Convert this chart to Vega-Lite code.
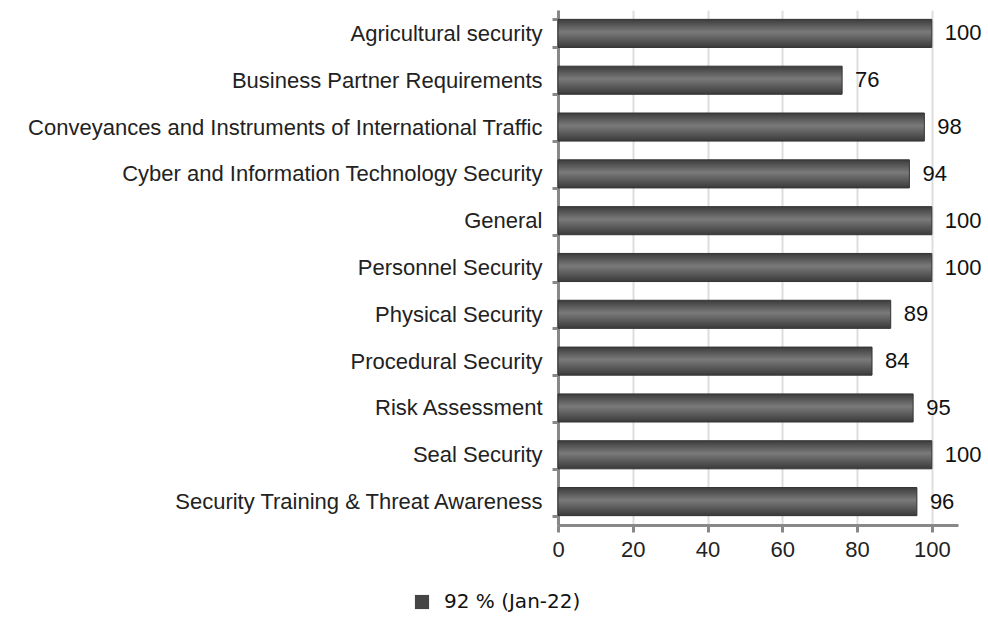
{
  "$schema": "https://vega.github.io/schema/vega-lite/v6.json",
  "autosize": {"type": "none"},
  "padding": {"left": 558, "top": 10, "right": 30, "bottom": 94},
  "width": 400,
  "height": 515,
  "background": "white",
  "config": {"view": {"stroke": null}},
  "data": {
    "values": [
      {"category": "Agricultural security", "value": 100, "series": "92 % (Jan-22)"},
      {"category": "Business Partner Requirements", "value": 76, "series": "92 % (Jan-22)"},
      {"category": "Conveyances and Instruments of International Traffic", "value": 98, "series": "92 % (Jan-22)"},
      {"category": "Cyber and Information Technology Security", "value": 94, "series": "92 % (Jan-22)"},
      {"category": "General", "value": 100, "series": "92 % (Jan-22)"},
      {"category": "Personnel Security", "value": 100, "series": "92 % (Jan-22)"},
      {"category": "Physical Security", "value": 89, "series": "92 % (Jan-22)"},
      {"category": "Procedural Security", "value": 84, "series": "92 % (Jan-22)"},
      {"category": "Risk Assessment", "value": 95, "series": "92 % (Jan-22)"},
      {"category": "Seal Security", "value": 100, "series": "92 % (Jan-22)"},
      {"category": "Security Training & Threat Awareness", "value": 96, "series": "92 % (Jan-22)"}
    ]
  },
  "encoding": {
    "y": {
      "field": "category", "type": "nominal", "sort": null,
      "scale": {"paddingInner": 0.4, "paddingOuter": 0.2},
      "axis": {
        "title": null,
        "labelFont": "Liberation Sans", "labelFontSize": 22, "labelColor": "#222222",
        "labelPadding": 10, "labelLimit": 700,
        "domainColor": "#888888", "domainWidth": 3,
        "tickColor": "#888888", "tickWidth": 3, "tickSize": 6, "tickBand": "extent"
      }
    },
    "x": {
      "field": "value", "type": "quantitative",
      "scale": {"domain": [0, 107], "nice": false},
      "axis": {
        "title": null, "values": [0, 20, 40, 60, 80, 100], "labelFlush": false,
        "labelFont": "Liberation Sans", "labelFontSize": 22, "labelColor": "#222222",
        "labelPadding": 7,
        "domainColor": "#888888", "domainWidth": 3,
        "tickColor": "#888888", "tickWidth": 3, "tickSize": 7,
        "grid": true, "gridColor": "#dddddd", "gridWidth": 2
      }
    }
  },
  "layer": [
    {
      "mark": {
        "type": "bar",
        "fill": {
          "gradient": "linear", "x1": 0, "y1": 0, "x2": 0, "y2": 1,
          "stops": [
            {"offset": 0, "color": "#3c3c3c"},
            {"offset": 0.45, "color": "#7a7a7a"},
            {"offset": 1, "color": "#3a3a3a"}
          ]
        },
        "stroke": "#333333", "strokeWidth": 1
      },
      "encoding": {
        "color": {
          "field": "series", "type": "nominal",
          "scale": {"range": ["#454545"]},
          "legend": {
            "title": null, "orient": "none", "legendX": -146, "legendY": 582,
            "symbolType": "square", "symbolSize": 200, "symbolStrokeWidth": 0,
            "labelFont": "DejaVu Sans", "labelFontSize": 20, "labelColor": "#111111",
            "labelOffset": 12
          }
        }
      }
    },
    {
      "mark": {"type": "text", "align": "left", "baseline": "middle", "dx": 13, "font": "Liberation Sans", "fontSize": 22, "color": "#111111"},
      "encoding": {"text": {"field": "value", "type": "quantitative"}}
    }
  ]
}
